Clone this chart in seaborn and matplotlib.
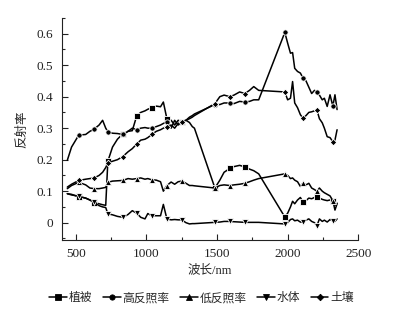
import numpy as np
import pandas as pd
import matplotlib
matplotlib.use("Agg")
import matplotlib.pyplot as plt
from matplotlib.lines import Line2D
from matplotlib.ticker import MultipleLocator, FuncFormatter
import seaborn as sns

# ---- data ----
wavelength = [440, 470, 521, 570, 600, 630, 665, 690, 712, 727, 760, 795, 833, 870, 900, 932,
              960, 990, 1010, 1038, 1070, 1100, 1120, 1145, 1175, 1200, 1225, 1250, 1280, 1305,
              1325, 1340, 1485, 1520, 1550, 1590, 1620, 1660, 1697, 1730, 1760, 1795, 1980, 2000,
              2020, 2035, 2050, 2070, 2090, 2108, 2130, 2150, 2170, 2190, 2207, 2225, 2245, 2260,
              2280, 2300, 2320, 2335, 2350]

marker_wl = [521, 630, 727, 833, 932, 1038, 1145, 1250, 1485, 1590, 1697, 1980, 2108, 2207, 2320]

vegetation = [0.092, 0.090, 0.082, 0.078, 0.072, 0.064, 0.060, 0.057, 0.055, 0.195, 0.240, 0.265,
              0.282, 0.290, 0.292, 0.340, 0.350, 0.355, 0.360, 0.365, 0.370, 0.368, 0.383, 0.330,
              0.325, 0.310, 0.325, 0.320, 0.325, 0.318, 0.305, 0.300, 0.110, 0.135, 0.160, 0.172,
              0.178, 0.182, 0.177, 0.170, 0.165, 0.155, 0.018, 0.030, 0.050, 0.068, 0.060, 0.072,
              0.080, 0.066, 0.070, 0.078, 0.076, 0.080, 0.083, 0.078, 0.074, 0.072, 0.070, 0.072,
              0.068, 0.055, 0.062]

high_albedo = [0.198, 0.240, 0.278, 0.280, 0.290, 0.297, 0.310, 0.325, 0.300, 0.289, 0.284, 0.283,
               0.280, 0.290, 0.300, 0.295, 0.300, 0.302, 0.300, 0.300, 0.305, 0.310, 0.315, 0.320,
               0.300, 0.325, 0.310, 0.320, 0.325, 0.335, 0.340, 0.345, 0.375, 0.375, 0.380, 0.380,
               0.378, 0.385, 0.383, 0.385, 0.390, 0.390, 0.604, 0.570, 0.538, 0.540, 0.490, 0.480,
               0.475, 0.460, 0.450, 0.430, 0.410, 0.420, 0.416, 0.405, 0.390, 0.395, 0.369, 0.406,
               0.370, 0.406, 0.359]

low_albedo = [0.108, 0.118, 0.128, 0.120, 0.110, 0.108, 0.108, 0.110, 0.112, 0.128, 0.132, 0.133,
              0.134, 0.140, 0.138, 0.140, 0.142, 0.138, 0.140, 0.136, 0.135, 0.130, 0.100, 0.118,
              0.129, 0.122, 0.130, 0.132, 0.125, 0.118, 0.118, 0.117, 0.110, 0.118, 0.120, 0.118,
              0.120, 0.122, 0.125, 0.130, 0.135, 0.140, 0.155, 0.150, 0.140, 0.142, 0.135, 0.130,
              0.115, 0.125, 0.120, 0.125, 0.110, 0.105, 0.100, 0.110, 0.100, 0.095, 0.090, 0.085,
              0.070, 0.040, 0.060]

water = [0.092, 0.088, 0.084, 0.078, 0.072, 0.065, 0.054, 0.050, 0.048, 0.028, 0.025, 0.020,
         0.017, 0.026, 0.038, 0.030, 0.017, 0.012, 0.029, 0.022, 0.022, 0.022, 0.058, 0.012,
         0.009, 0.010, 0.009, 0.009, 0.000, -0.004, -0.003, -0.003, 0.001, 0.002, 0.004, 0.004,
         0.003, 0.002, 0.001, 0.001, 0.001, 0.001, -0.004, 0.000, 0.010, 0.012, 0.006, 0.008,
         0.002, 0.001, 0.008, 0.012, 0.004, 0.000, -0.010, 0.012, 0.004, 0.008, 0.002, 0.010,
         0.006, 0.004, 0.012]

soil = [0.113, 0.122, 0.134, 0.138, 0.140, 0.142, 0.150, 0.160, 0.175, 0.190, 0.195, 0.200,
        0.210, 0.225, 0.235, 0.250, 0.262, 0.265, 0.270, 0.280, 0.290, 0.295, 0.300, 0.305,
        0.310, 0.300, 0.315, 0.320, 0.325, 0.330, 0.335, 0.340, 0.378, 0.400, 0.405, 0.400,
        0.405, 0.415, 0.410, 0.420, 0.432, 0.420, 0.415, 0.390, 0.395, 0.448, 0.380, 0.365,
        0.343, 0.332, 0.340, 0.350, 0.352, 0.355, 0.358, 0.330, 0.317, 0.300, 0.273, 0.270,
        0.257, 0.262, 0.295]

series_names = ["植被", "高反照率", "低反照率", "水体", "土壤"]
series_values = [vegetation, high_albedo, low_albedo, water, soil]
series_markers = ["s", "o", "^", "v", "D"]
series_msize = [3.8, 3.8, 4.0, 4.0, 3.3]

x_ticks = [500, 1000, 1500, 2000, 2500]
y_ticks = [0, 0.1, 0.2, 0.3, 0.4, 0.5, 0.6]

# ---- plot ----
sns.set_theme(style="ticks")
plt.rcParams["font.family"] = ["Liberation Serif", "Noto Sans CJK SC", "DejaVu Sans"]
plt.rcParams["xtick.direction"] = "in"
plt.rcParams["ytick.direction"] = "in"

fig = plt.figure(figsize=(4.03, 3.20), dpi=100)
ax = fig.add_axes([0.153, 0.25, 0.736, 0.694])

mark_idx = [wavelength.index(w) for w in marker_wl]
df = pd.DataFrame({"wl": wavelength})
handles = []
for name, vals, mk, ms in zip(series_names, series_values, series_markers, series_msize):
    df[name] = vals
    sns.lineplot(data=df, x="wl", y=name, ax=ax, color="black", linewidth=1.1,
                 marker=mk, markersize=ms, markevery=mark_idx, markeredgewidth=0.6,
                 estimator=None, sort=False, legend=False)
    handles.append(Line2D([], [], color="black", linewidth=1.1, marker=mk,
                          markersize=ms, markeredgewidth=0.6))

ax.set_xlim(400, 2500)
ax.set_ylim(-0.055, 0.65)
ax.set_xticks(x_ticks)
ax.set_yticks(y_ticks)
ax.xaxis.set_minor_locator(MultipleLocator(250))
ax.yaxis.set_minor_locator(MultipleLocator(0.05))
ax.yaxis.set_major_formatter(FuncFormatter(lambda v, p: f"{v:g}"))
ax.tick_params(axis="both", which="major", length=4, width=0.8, labelsize=9.5, colors="#222222",
               pad=6)
ax.tick_params(axis="both", which="minor", length=2.5, width=0.8)
for s in ["top", "right"]:
    ax.spines[s].set_visible(False)
for s in ["left", "bottom"]:
    ax.spines[s].set_linewidth(0.8)
    ax.spines[s].set_color("#222222")

ax.set_xlabel("波长/nm", fontsize=9, labelpad=3)
ax.set_ylabel("反射率", fontsize=9, labelpad=6)

fig.legend(handles, series_names, loc="center", bbox_to_anchor=(0.5, 0.068), ncol=5,
           frameon=False, fontsize=8.5, handlelength=1.5, handletextpad=0.15,
           columnspacing=0.9, borderpad=0.1)

fig.savefig("out.png", dpi=100)
